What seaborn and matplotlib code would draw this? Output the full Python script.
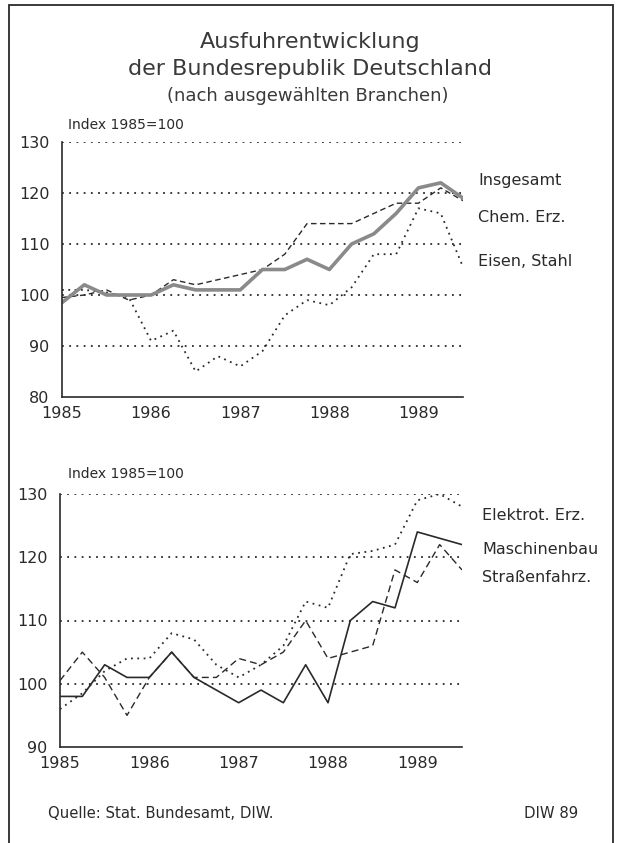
import numpy as np
import pandas as pd
import seaborn as sns
import matplotlib
matplotlib.use("Agg")
from matplotlib import pyplot as plt
from matplotlib.patches import Rectangle

sns.set_theme(style="white")
plt.rcParams['font.family'] = ['DejaVu Sans']

# quarterly values, 1985 Q1 .. 1989 Q3
quarters = [1985 + i / 4 for i in range(19)]

insgesamt = [98.5, 102, 100, 100, 100, 102, 101, 101, 101, 105, 105, 107, 105, 110, 112, 116, 121, 122, 119]
chem_erz = [99.5, 100, 101, 99, 100, 103, 102, 103, 104, 105, 108, 114, 114, 114, 116, 118, 118, 121, 118.5]
eisen_stahl = [101, 101, 100.5, 99.5, 91, 93, 85, 88, 86, 89, 96, 99, 98, 101.5, 108, 108, 117, 116, 105.5]

maschinenbau = [98, 98, 103, 101, 101, 105, 101, 99, 97, 99, 97, 103, 97, 110, 113, 112, 124, 123, 122]
strassenfahrz = [100.5, 105, 101, 95, 101, 105, 101, 101, 104, 103, 105, 110, 104, 105, 106, 118, 116, 122, 118]
elektrot_erz = [96, 98.5, 102, 104, 104, 108, 107, 103, 101, 103, 106, 113, 112, 120.5, 121, 122, 129, 130, 128]

years = [1985, 1986, 1987, 1988, 1989]

top = pd.DataFrame({"t": quarters, "Insgesamt": insgesamt,
                    "Chem. Erz.": chem_erz, "Eisen, Stahl": eisen_stahl})
bottom = pd.DataFrame({"t": quarters, "Elektrot. Erz.": elektrot_erz,
                       "Maschinenbau": maschinenbau, "Straßenfahrz.": strassenfahrz})

ink = "#2a2a2a"
W, H = 619, 843
fig = plt.figure(figsize=(W / 100, H / 100), dpi=100)
fig.patch.set_facecolor("white")

# outer frame
fig.add_artist(Rectangle((9 / W, -0.01), (613 - 9) / W, 1 - 5 / H + 0.01,
                         transform=fig.transFigure, fill=False, lw=1.3, ec=ink))

fig.text(310 / W, 1 - 42 / H, "Ausfuhrentwicklung", ha="center", va="center",
         fontsize=16, color="#3a3a3a")
fig.text(310 / W, 1 - 69 / H, "der Bundesrepublik Deutschland", ha="center", va="center",
         fontsize=16, color="#3a3a3a")
fig.text(308 / W, 1 - 96 / H, "(nach ausgewählten Branchen)", ha="center", va="center",
         fontsize=13, color="#3a3a3a")


def style_axes(ax, ymin, ymax, label_y):
    ax.set_xlim(1985, 1989.5)
    ax.set_ylim(ymin, ymax)
    ax.set_facecolor("white")
    for s in ["top", "right"]:
        ax.spines[s].set_visible(False)
    for s in ["left", "bottom"]:
        ax.spines[s].set_color(ink)
        ax.spines[s].set_linewidth(1.2)
    for v in range(ymin + 10, ymax + 1, 10):
        ax.axhline(v, color=ink, lw=1.3, ls=(0, (1, 3)), zorder=0)
    ax.set_yticks(list(range(ymin, ymax + 1, 10)))
    ax.set_xticks(quarters)
    ax.set_xticklabels([str(int(q)) if q in years else "" for q in quarters])
    ax.tick_params(axis="x", direction="inout", length=7, width=1, color=ink,
                   labelsize=11.5, labelcolor=ink, pad=3)
    ax.tick_params(axis="y", direction="out", length=5, width=1, color=ink,
                   labelsize=11.5, labelcolor=ink, pad=4)
    ax.set_xlabel("")
    ax.set_ylabel("")
    ax.grid(False)
    fig.text(68 / W, 1 - label_y / H, "Index 1985=100", ha="left", va="center",
             fontsize=10, color=ink)


# upper chart
ax1 = fig.add_axes([62 / W, 1 - 397 / H, (463 - 62) / W, (397 - 142) / H])
sns.lineplot(data=top, x="t", y="Eisen, Stahl", ax=ax1, color=ink, lw=1.3,
             linestyle=(0, (1, 2.5)))
sns.lineplot(data=top, x="t", y="Chem. Erz.", ax=ax1, color=ink, lw=1.0,
             linestyle=(0, (4, 2.5)))
sns.lineplot(data=top, x="t", y="Insgesamt", ax=ax1, color="#8a8a8a", lw=2.6)
style_axes(ax1, 80, 130, 125)

for name, y in [("Insgesamt", 181), ("Chem. Erz.", 218), ("Eisen, Stahl", 262)]:
    fig.text(478 / W, 1 - y / H, name, ha="left", va="center", fontsize=11.5, color=ink)

# lower chart
ax2 = fig.add_axes([60 / W, 1 - 747 / H, (462 - 60) / W, (747 - 494) / H])
sns.lineplot(data=bottom, x="t", y="Elektrot. Erz.", ax=ax2, color=ink, lw=1.3,
             linestyle=(0, (1, 2.5)))
sns.lineplot(data=bottom, x="t", y="Straßenfahrz.", ax=ax2, color=ink, lw=1.0,
             linestyle=(0, (5, 3)))
sns.lineplot(data=bottom, x="t", y="Maschinenbau", ax=ax2, color=ink, lw=1.2)
style_axes(ax2, 90, 130, 474)

for name, y in [("Elektrot. Erz.", 515), ("Maschinenbau", 549), ("Straßenfahrz.", 578)]:
    fig.text(482 / W, 1 - y / H, name, ha="left", va="center", fontsize=11.5, color=ink)

fig.text(48 / W, 1 - 813 / H, "Quelle: Stat. Bundesamt, DIW.", ha="left", va="center",
         fontsize=10.7, color=ink)
fig.text(578 / W, 1 - 813 / H, "DIW 89", ha="right", va="center",
         fontsize=10.7, color=ink)

fig.savefig("out.png", dpi=100, facecolor="white")
